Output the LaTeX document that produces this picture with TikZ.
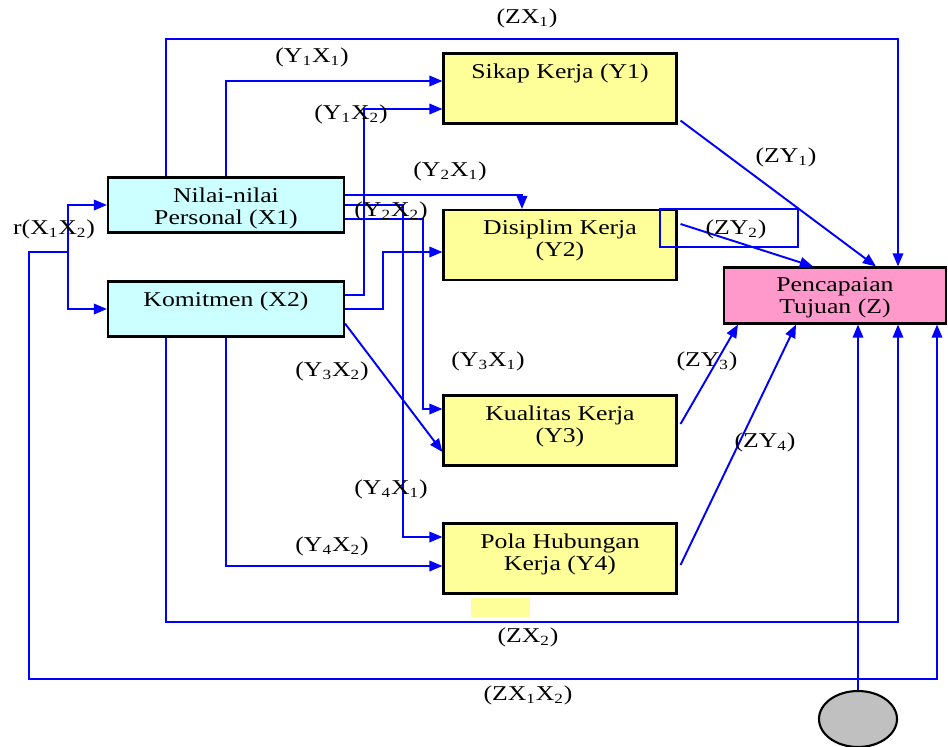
\documentclass[tikz,border=0pt]{standalone}
\usepackage{fontspec}
\setmainfont[FakeStretch=1.22]{Liberation Serif}
\usetikzlibrary{arrows.meta,positioning,calc,shapes.geometric}

\definecolor{biru}{HTML}{0000FF}
\definecolor{toska}{HTML}{CCFFFF}
\definecolor{kuning}{HTML}{FFFF99}
\definecolor{merah}{HTML}{FF99CC}
\definecolor{abu}{HTML}{C0C0C0}

\newcommand{\ix}[1]{\textsubscript{#1}}

\begin{document}
\begin{tikzpicture}[x=0.02cm,y=-0.02cm,
    font=\fontsize{12}{12.5}\selectfont,
    kotakX/.style={draw,line width=1.2pt,fill=toska,minimum width=4.72cm,minimum height=1.1cm,inner sep=0pt},
    kotakY/.style={draw,line width=1.2pt,fill=kuning,minimum width=4.66cm,minimum height=1.4cm,inner sep=0pt},
    kotakZ/.style={draw,line width=1.2pt,fill=merah,minimum width=4.44cm,minimum height=1.12cm,inner sep=0pt},
    isi/.style={anchor=north,inner sep=0pt,align=center,yshift=-6.2pt},
    panah/.style={draw=biru,line width=1.1pt,-{Triangle[length=7.5pt,width=6pt]}},
    garis/.style={draw=biru,line width=1.1pt}]
\useasboundingbox (0,0) rectangle (948,747);

%kotak
\node[kotakX,label={[isi,name=tX1]north:Nilai-nilai\\Personal (X1)}] (x1) at (226,205) {};
\node[kotakX,label={[isi,name=tX2]north:Komitmen (X2)}] (x2) at (226,309) {};
\node[kotakY,label={[isi,name=tY1]north:Sikap Kerja (Y1)}] (y1) at (560,88.5) {};
\node[kotakY,label={[isi,name=tY2]north:Disiplim Kerja\\(Y2)}] (y2) at (560,245) {};
\node[kotakY,label={[isi,name=tY3]north:Kualitas Kerja\\(Y3)}] (y3) at (560,430.5) {};
\node[kotakY,label={[isi,name=tY4]north:Pola Hubungan\\Kerja (Y4)}] (y4) at (560,558.5) {};
\node[kotakZ,label={[isi,name=tZ]north:Pencapaian\\Tujuan (Z)}] (z) at (835,295.5) {};
\node[draw,ellipse,line width=1.2pt,fill=abu,minimum width=1.56cm,minimum height=1.12cm] (e) at (858,719) {};
\fill[kuning] (471,598) rectangle (530,617);
\draw[garis] (660,209) rectangle (798,247);

\coordinate (zx1) at (898,39);
\coordinate (zx2) at (898,622);
\coordinate (zx12) at (937,679);
\coordinate (rj) at (68,252);

%jalur X ke Y
\draw[panah] (x1.north) |- ([yshift=.15cm]y1.west);
\draw[panah] ([yshift=.28cm]x2.east) -- ++(19,0) |- ([yshift=-.41cm]y1.west);
\draw[panah] ([yshift=.2cm]x1.east) -| ([xshift=-.76cm]y2.north);
\draw[panah] (x2.east) -- ++(38,0) |- ([yshift=-.14cm]y2.west);
\draw[panah] ([yshift=-.28cm]x1.east) -- ++(78,0) |- ([yshift=.43cm]y3.west);
\draw[panah] (x1.east) -- ++(58,0) |- ([yshift=.43cm]y4.west);
\draw[panah] ([yshift=.28cm]x2.south east) -- ([yshift=-.43cm]y3.west);
\draw[panah] (x2.south) |- ([yshift=-.15cm]y4.west);

%jalur ke Z
\draw[panah] ([xshift=-1.2cm]x1.north) |- (zx1) -- (zx1 |- z.north);
\draw[panah] ([xshift=-1.2cm]x2.south) |- (zx2) -- (zx2 |- z.south);
\draw[panah] (rj) |- (x1.west);
\draw[panah] (rj) |- (x2.west);
\draw[panah] (rj) -- ++(-39,0) |- (zx12) -- (zx12 |- z.south);
\draw[panah] (e.north) -- (e.north |- z.south);
\draw[panah] ([xshift=.06cm,yshift=.08cm]y1.south east) -- ([xshift=.82cm]z.north);
\draw[panah] ([xshift=.06cm,yshift=.42cm]y2.east) -- ([xshift=-.44cm]z.north);
\draw[panah] ([xshift=.06cm,yshift=.13cm]y3.east) -- ([xshift=-1.94cm]z.south);
\draw[panah] ([xshift=.06cm,yshift=-.13cm]y4.east) -- ([xshift=-.78cm]z.south);

%label
\node (lZX1) at (527,18) {(ZX\ix{1})};
\node (lY1X1) at (312,57) {(Y\ix{1}X\ix{1})};
\node (lY1X2) at (351,114) {(Y\ix{1}X\ix{2})};
\node (lY2X1) at (450,171) {(Y\ix{2}X\ix{1})};
\node (lY2X2) at (391,211) {(Y\ix{2}X\ix{2})};
\node (lY3X1) at (488,361) {(Y\ix{3}X\ix{1})};
\node (lY3X2) at (332,371) {(Y\ix{3}X\ix{2})};
\node (lY4X1) at (391,489) {(Y\ix{4}X\ix{1})};
\node (lY4X2) at (332,546) {(Y\ix{4}X\ix{2})};
\node (lZX2) at (528,637) {(ZX\ix{2})};
\node (lZX12) at (528,695) {(ZX\ix{1}X\ix{2})};
\node (lZY1) at (786,157) {(ZY\ix{1})};
\node (lZY2) at (736,229) {(ZY\ix{2})};
\node (lZY3) at (707,361) {(ZY\ix{3})};
\node (lZY4) at (765,442) {(ZY\ix{4})};
\node (lr) at (54,229) {r(X\ix{1}X\ix{2})};
\end{tikzpicture}
\end{document}
